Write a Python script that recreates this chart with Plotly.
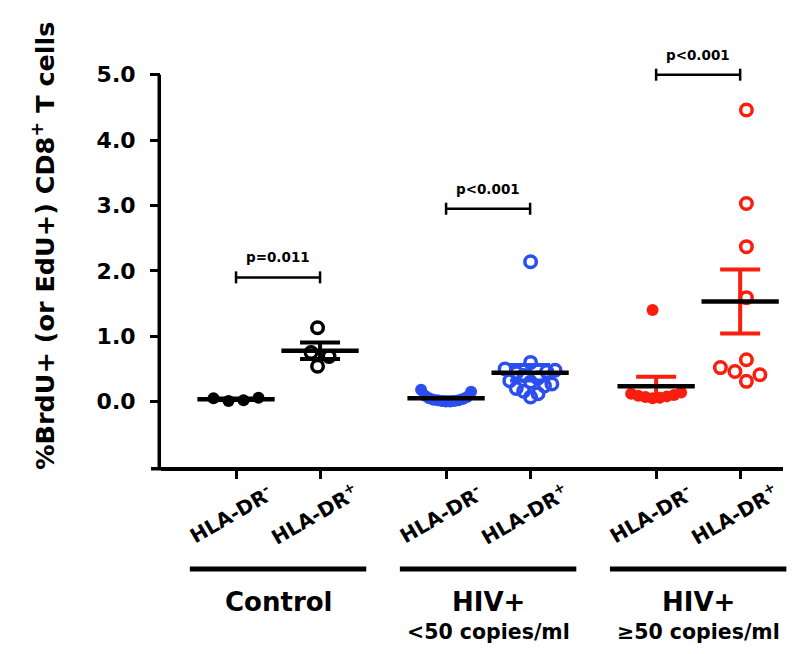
import numpy as np
import plotly.graph_objects as go

# ---------------- data ----------------
categories = ["HLA-DR<sup>-</sup>", "HLA-DR<sup>+</sup>",
              "HLA-DR<sup>-</sup>", "HLA-DR<sup>+</sup>",
              "HLA-DR<sup>-</sup>", "HLA-DR<sup>+</sup>"]
x_pos = [1, 2, 3.5, 4.5, 6, 7]

ctrl_neg = [0.05, 0.01, 0.02, 0.06]
ctrl_pos = [1.13, 0.75, 0.69, 0.54]
low_neg = [0.18, 0.15, 0.09, 0.07, 0.05, 0.04, 0.03, 0.02, 0.02, 0.01, 0.01, 0.00, 0.00]
low_pos = [2.14, 0.60, 0.50, 0.48, 0.46, 0.44, 0.40, 0.36, 0.32, 0.30, 0.27, 0.24,
           0.20, 0.16, 0.12, 0.07]
high_neg = [1.40, 0.14, 0.12, 0.10, 0.09, 0.08, 0.07, 0.06, 0.05]
high_pos = [4.46, 3.03, 2.37, 1.59, 0.64, 0.52, 0.46, 0.41, 0.31]

series = [ctrl_neg, ctrl_pos, low_neg, low_pos, high_neg, high_pos]
colors = ["#000000", "#000000", "#2B4EF0", "#2B4EF0", "#FA1E0E", "#FA1E0E"]
filled = [True, False, True, False, True, False]

group_names = ["<b>Control</b>", "<b>HIV+</b>", "<b>HIV+</b>"]
group_sub = ["", "<b><50 copies/ml</b>", "<b>≥50 copies/ml</b>"]

bracket_pairs = [(0, 1), (2, 3), (4, 5)]
bracket_y = [1.9, 2.95, 5.0]
p_labels = ["<b>p=0.011</b>", "<b>p<0.001</b>", "<b>p<0.001</b>"]

y_ticks = [0, 1, 2, 3, 4, 5]
y_ticktext = ["0.0", "1.0", "2.0", "3.0", "4.0", "5.0"]
y_title = "<b>%BrdU+ (or EdU+) CD8<sup>+</sup> T cells</b>"

# ---------------- layout constants ----------------
W, H = 800, 654
BODY = 8  # default page margin of the html body
ML, MR, MT, MB = 161, 17, 42, 187   # wanted plot-area margins on screen
X_RANGE = [0.107, 7.51]
Y_RANGE = [-1.0, 5.5]
PW, PH = W - ML - MR, H - MT - MB
PX_X = PW / (X_RANGE[1] - X_RANGE[0])
PX_Y = PH / (Y_RANGE[1] - Y_RANGE[0])
FONT = "DejaVu Sans"


def swarm(vals, D=15.0, max_half=25.0):
    vals = np.asarray(vals, dtype=float)
    order = np.argsort(vals)
    placed = []
    offs = np.zeros(len(vals))
    pref = 1
    for i in order:
        y = vals[i] * PX_Y
        best = None
        for k in range(0, 800):
            signs = (1,) if k == 0 else (pref, -pref)
            for sg in signs:
                dx = sg * k * 0.5
                if all((dx - px) ** 2 + (y - py) ** 2 >= D * D for px, py in placed):
                    best = dx
                    break
            if best is not None:
                break
        if best != 0:
            pref = -np.sign(best)
        placed.append((best, y))
        offs[i] = best
    offs -= (offs.max() + offs.min()) / 2
    ext = np.abs(offs).max()
    if ext > max_half:
        offs *= max_half / ext
    return offs / PX_X


fig = go.Figure()

# error bars (mean +/- SEM)
for vals, xp, col in zip(series, x_pos, colors):
    v = np.asarray(vals)
    m = v.mean()
    sem = v.std(ddof=1) / np.sqrt(len(v))
    fig.add_trace(go.Scatter(
        x=[xp], y=[m], mode="markers", marker=dict(size=0.1, color=col, opacity=0),
        error_y=dict(type="data", array=[sem], visible=True, color=col,
                     thickness=4, width=20),
        showlegend=False, hoverinfo="skip"))

# points
for vals, xp, col, fl in zip(series, x_pos, colors, filled):
    offs = swarm(vals)
    fig.add_trace(go.Scatter(
        x=list(np.array(xp) + offs), y=vals, mode="markers",
        marker=dict(symbol="circle" if fl else "circle-open",
                    size=12 if fl else 11.5, color=col,
                    line=dict(width=0 if fl else 3.5, color=col)),
        showlegend=False, cliponaxis=False))

# mean lines
for vals, xp in zip(series, x_pos):
    m = float(np.mean(vals))
    fig.add_trace(go.Scatter(
        x=[xp - 0.46, xp + 0.46], y=[m, m], mode="lines",
        line=dict(color="black", width=4.5), showlegend=False, hoverinfo="skip"))

# significance brackets
cap = 6 / PX_Y
for (a, b), by, lab in zip(bracket_pairs, bracket_y, p_labels):
    xa, xb = x_pos[a], x_pos[b]
    fig.add_trace(go.Scatter(
        x=[xa, xa, None, xa, xb, None, xb, xb],
        y=[by - cap, by + cap, None, by, by, None, by - cap, by + cap],
        mode="lines", line=dict(color="black", width=2.5),
        showlegend=False, hoverinfo="skip"))
    fig.add_annotation(x=(xa + xb) / 2, y=by, xref="x", yref="y", text=lab,
                       showarrow=False, yshift=20,
                       font=dict(family=FONT, size=13.5, color="black"))

# y-axis line (stops at 5.0)
fig.add_shape(type="line", xref="paper", yref="y", x0=-0.0028, x1=-0.0028,
              y0=-1.0, y1=5.0, line=dict(color="black", width=3.5))
# little extension of the x-axis line at the bottom-left corner
fig.add_shape(type="line", xref="paper", yref="paper", x0=-10 / PW, x1=0,
              y0=-1.75 / PH, y1=-1.75 / PH, line=dict(color="black", width=3.5))

# category labels (rotated)
for xp, lab in zip(x_pos, categories):
    fig.add_annotation(x=xp, y=-47 / PH, xref="x", yref="paper",
                       text="<b>" + lab + "</b>", textangle=-30, showarrow=False,
                       xanchor="center", yanchor="middle", xshift=-6,
                       font=dict(family=FONT, size=20, color="black"))


def to_paper_x(v):
    return (v - X_RANGE[0]) / (X_RANGE[1] - X_RANGE[0])


# group bars and names
for g in range(3):
    c = (x_pos[2 * g] + x_pos[2 * g + 1]) / 2
    fig.add_shape(type="line", xref="paper", yref="paper",
                  x0=to_paper_x(c - 1.05), x1=to_paper_x(c + 1.05),
                  y0=-102 / PH, y1=-102 / PH,
                  line=dict(color="black", width=5))
    fig.add_annotation(x=c, y=-135 / PH, xref="x", yref="paper",
                       text=group_names[g], showarrow=False,
                       xanchor="center", yanchor="middle",
                       font=dict(family=FONT, size=26, color="black"))
    if group_sub[g]:
        fig.add_annotation(x=c, y=-165 / PH, xref="x", yref="paper",
                           text=group_sub[g], showarrow=False,
                           xanchor="center", yanchor="middle",
                           font=dict(family=FONT, size=20.5, color="black"))

# y title
fig.add_annotation(x=(43 - ML) / PW, y=(H - MB - 246) / PH,
                   xref="paper", yref="paper", text=y_title, textangle=-90,
                   showarrow=False, xanchor="center", yanchor="middle",
                   font=dict(family=FONT, size=25.5, color="black"))

fig.update_layout(
    width=W, height=H, autosize=False,
    margin=dict(l=ML - BODY, r=MR + BODY, t=MT - BODY, b=MB + BODY, pad=0),
    plot_bgcolor="white", paper_bgcolor="white",
    font=dict(family=FONT, color="black"),
    showlegend=False,
    xaxis=dict(range=X_RANGE, tickvals=x_pos, showticklabels=False,
               ticks="outside", ticklen=8, tickwidth=3, tickcolor="black",
               showline=True, linewidth=3.5, linecolor="black",
               showgrid=False, zeroline=False, fixedrange=True),
    yaxis=dict(range=Y_RANGE, tickvals=y_ticks, ticktext=y_ticktext,
               ticks="outside", ticklen=10, tickwidth=3, tickcolor="black",
               showline=False, showgrid=False, zeroline=False,
               tickfont=dict(family=FONT, size=22, color="black", weight="bold"),
               ticklabelstandoff=10, fixedrange=True, automargin=False),
)

fig.write_html("out.html")
